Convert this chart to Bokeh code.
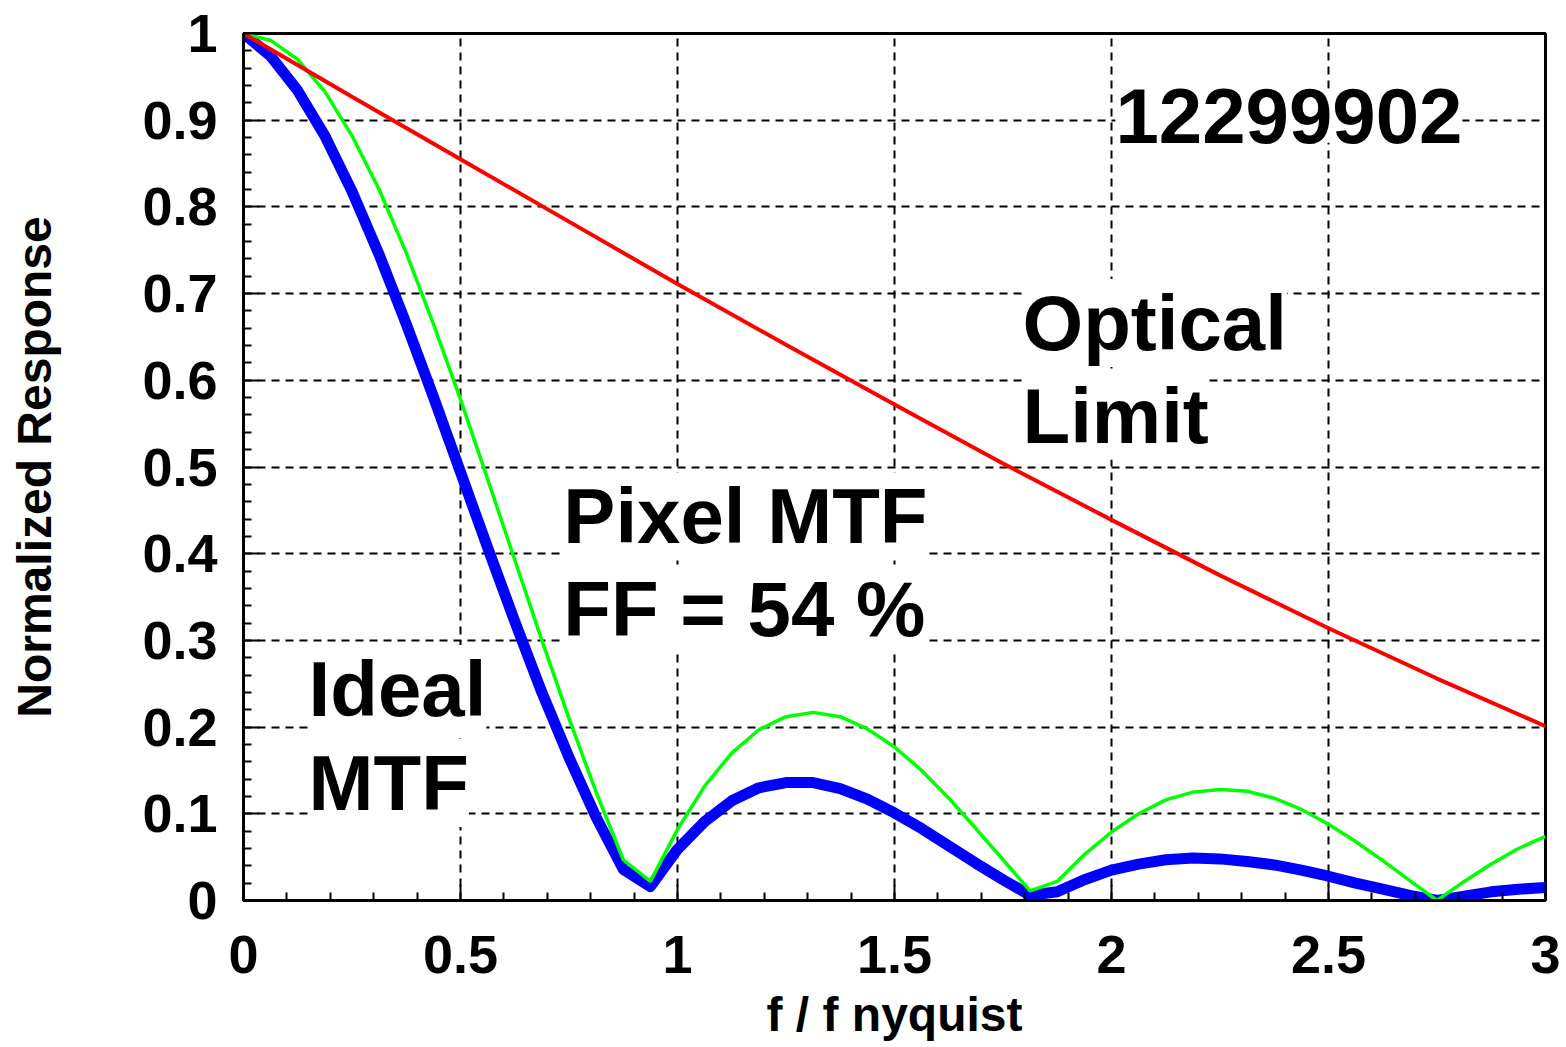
from bokeh.plotting import figure
from bokeh.models import Label, FixedTicker, CustomJSTickFormatter, Range1d
from bokeh.embed import file_html
from bokeh.resources import INLINE

# ---- data ----
freq = [0.0, 0.0625, 0.125, 0.1875, 0.25, 0.3125, 0.375, 0.4375, 0.5, 0.5625,
        0.625, 0.6875, 0.75, 0.8125, 0.875, 0.9375, 1.0, 1.0625, 1.125, 1.1875,
        1.25, 1.3125, 1.375, 1.4375, 1.5, 1.5625, 1.625, 1.6875, 1.75, 1.8125,
        1.875, 1.9375, 2.0, 2.0625, 2.125, 2.1875, 2.25, 2.3125, 2.375, 2.4375,
        2.5, 2.5625, 2.625, 2.6875, 2.75, 2.8125, 2.875, 2.9375, 3.0]

pixel_mtf = [1.0, 0.992, 0.970, 0.933, 0.882, 0.820, 0.747, 0.665, 0.578, 0.486,
             0.393, 0.300, 0.210, 0.125, 0.047, 0.022, 0.082, 0.132, 0.170, 0.197,
             0.212, 0.217, 0.212, 0.198, 0.177, 0.150, 0.118, 0.083, 0.047, 0.011,
             0.022, 0.053, 0.079, 0.100, 0.116, 0.125, 0.128, 0.126, 0.118, 0.105,
             0.088, 0.068, 0.046, 0.023, 0.000, 0.022, 0.042, 0.060, 0.074]

ideal_mtf = [1.0, 0.974, 0.934, 0.882, 0.818, 0.745, 0.665, 0.581, 0.494, 0.407,
             0.322, 0.240, 0.165, 0.096, 0.036, 0.016, 0.059, 0.091, 0.115, 0.130,
             0.136, 0.136, 0.129, 0.117, 0.101, 0.083, 0.063, 0.043, 0.024, 0.006,
             0.010, 0.024, 0.035, 0.042, 0.047, 0.049, 0.048, 0.045, 0.041, 0.035,
             0.028, 0.020, 0.013, 0.006, 0.000, 0.005, 0.010, 0.013, 0.015]

optical_freq = [0.0, 0.25, 0.5, 0.75, 1.0, 1.25, 1.5, 1.75, 2.0, 2.25, 2.5, 2.75, 3.0]
optical_limit = [1.0, 0.927, 0.855, 0.783, 0.711, 0.641, 0.572, 0.504, 0.439,
                 0.375, 0.314, 0.256, 0.201]

x_ticks = [0, 0.5, 1, 1.5, 2, 2.5, 3]
x_minor = [0.1, 0.2, 0.3, 0.4, 0.6, 0.7, 0.8, 0.9, 1.1, 1.2, 1.3, 1.4, 1.6, 1.7,
           1.8, 1.9, 2.1, 2.2, 2.3, 2.4, 2.6, 2.7, 2.8, 2.9]
y_ticks = [0, 0.1, 0.2, 0.3, 0.4, 0.5, 0.6, 0.7, 0.8, 0.9, 1]
y_minor = [round(v / 100, 2) for v in range(2, 100, 2) if v % 10 != 0]

FONT = "Liberation Sans"

p = figure(frame_width=1302, frame_height=867,
           x_range=Range1d(0, 3), y_range=Range1d(0, 1),
           output_backend="svg", toolbar_location=None,
           min_border_left=243, min_border_right=21,
           min_border_top=33, min_border_bottom=147)
p.background_fill_color = "white"
p.border_fill_color = "white"
p.outline_line_color = "black"
p.outline_line_width = 3

# grids
for g in (p.xgrid, p.ygrid):
    g.grid_line_color = "black"
    g.grid_line_width = 2
    g.grid_line_dash = "8 6"
p.xgrid.ticker = FixedTicker(ticks=x_ticks[1:-1])
p.ygrid.ticker = FixedTicker(ticks=y_ticks[1:-1])

fmt = CustomJSTickFormatter(code="return String(Number(tick.toFixed(2)));")

p.xaxis.ticker = FixedTicker(ticks=x_ticks, minor_ticks=x_minor)
p.yaxis.ticker = FixedTicker(ticks=y_ticks, minor_ticks=y_minor)
for ax in (p.xaxis, p.yaxis):
    ax.formatter = fmt
    ax.axis_line_color = "black"
    ax.axis_line_width = 3
    ax.major_tick_in = 16
    ax.major_tick_out = 0
    ax.minor_tick_in = 8
    ax.minor_tick_out = 0
    ax.major_tick_line_width = 2
    ax.minor_tick_line_width = 2
    ax.major_tick_line_color = "black"
    ax.minor_tick_line_color = "black"
    ax.major_label_text_font = FONT
    ax.major_label_text_font_style = "bold"
    ax.major_label_text_font_size = "54px"
    ax.major_label_text_color = "black"
    ax.axis_label_text_font = FONT
    ax.axis_label_text_font_style = "bold"
    ax.axis_label_text_font_size = "48px"
    ax.axis_label_text_color = "black"

p.xaxis.axis_label = "f / f nyquist"
p.yaxis.axis_label = "Normalized Response"
p.xaxis.major_label_standoff = 35
p.yaxis.major_label_standoff = 26
p.xaxis.axis_label_standoff = 12
p.yaxis.axis_label_standoff = 78

# curves
p.line(freq, ideal_mtf, line_color="#0000FF", line_width=11, line_join="round")
p.line(freq, pixel_mtf, line_color="#00FF00", line_width=3.5)
p.line(optical_freq, optical_limit, line_color="#FF0000", line_width=4)

# annotations
labels = [
    ("12299902", 2.009, 0.905),
    ("Optical", 1.795, 0.666),
    ("Limit", 1.795, 0.559),
    ("Pixel MTF", 0.737, 0.443),
    ("FF = 54 %", 0.737, 0.336),
    ("Ideal", 0.150, 0.244),
    ("MTF", 0.150, 0.1355),
]
for txt, lx, ly in labels:
    p.add_layout(Label(x=lx, y=ly, text=txt, text_font=FONT,
                       text_font_style="bold", text_font_size="78px",
                       text_color="black", text_align="left",
                       text_baseline="alphabetic",
                       background_fill_color="white"))

open("out.html", "w").write(file_html(p, INLINE))
